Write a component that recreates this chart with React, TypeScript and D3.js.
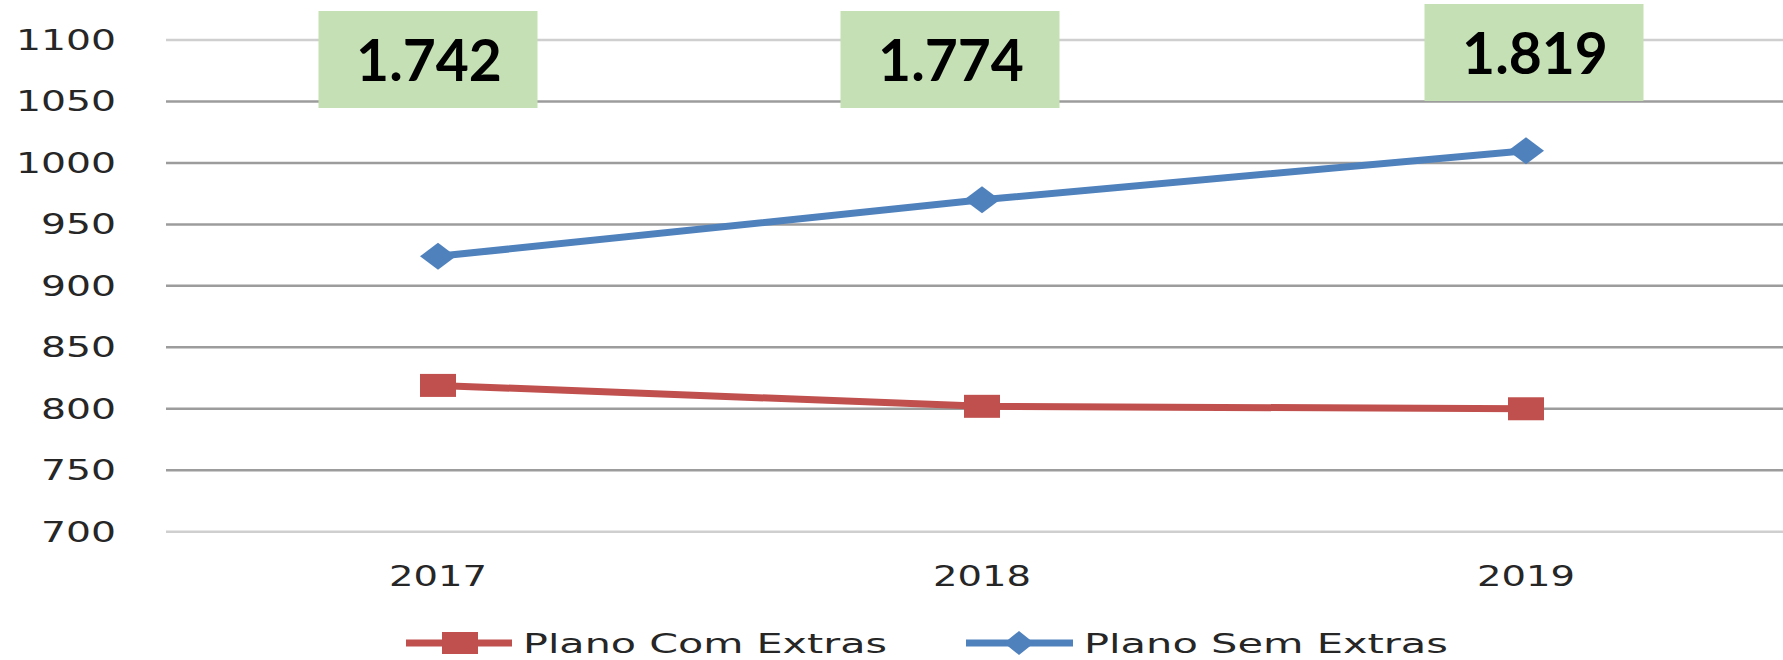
import React, { useEffect, useRef } from "react";
import * as d3 from "d3";

const years = ["2017", "2018", "2019"];
const comExtras = [819, 802, 800];
const semExtras = [924, 970, 1010];
const totalLabels = ["1.742", "1.774", "1.819"];
const yTicks = [700, 750, 800, 850, 900, 950, 1000, 1050, 1100];
const seriesNames = ["Plano Com Extras", "Plano Sem Extras"];

const RED = "#c0504d";
const BLUE = "#4f81bd";

export default function App() {
  const ref = useRef<SVGSVGElement>(null);
  const width = 1783;
  const height = 660;

  useEffect(() => {
    const svg = d3.select(ref.current).attr("width", width).attr("height", height);
    svg.selectAll("*").remove();

    const x = d3.scalePoint<string>().domain(years).range([166, 1798]).padding(0.5);
    const y = d3.scaleLinear().domain([700, 1100]).range([531.7, 40]);

    const font = "'DejaVu Sans', Verdana, sans-serif";

    // grid
    svg
      .append("g")
      .selectAll("line")
      .data(yTicks)
      .join("line")
      .attr("x1", 166)
      .attr("x2", width)
      .attr("y1", (d) => y(d))
      .attr("y2", (d) => y(d))
      .attr("stroke", (d) => (d === 700 || d === 1100 ? "#cfcfcf" : "#9c9c9c"))
      .attr("stroke-width", 2.5);

    // y labels (stretched like the original)
    svg
      .append("g")
      .selectAll("text")
      .data(yTicks)
      .join("text")
      .attr("x", 116)
      .attr("y", (d) => y(d) + 10)
      .attr("text-anchor", "end")
      .attr("font-family", font)
      .attr("font-size", 28)
      .attr("fill", "#262626")
      .attr("textLength", (d) => String(d).length * 25)
      .attr("lengthAdjust", "spacingAndGlyphs")
      .text((d) => d);

    // x labels
    svg
      .append("g")
      .selectAll("text")
      .data(years)
      .join("text")
      .attr("x", (d) => x(d)!)
      .attr("y", 586)
      .attr("text-anchor", "middle")
      .attr("font-family", font)
      .attr("font-size", 28)
      .attr("fill", "#262626")
      .attr("textLength", 98)
      .attr("lengthAdjust", "spacingAndGlyphs")
      .text((d) => d);

    const line = d3
      .line<number>()
      .x((_, i) => x(years[i])!)
      .y((d) => y(d));

    // red series
    svg
      .append("path")
      .datum(comExtras)
      .attr("d", line)
      .attr("fill", "none")
      .attr("stroke", RED)
      .attr("stroke-width", 7);
    svg
      .append("g")
      .selectAll("rect")
      .data(comExtras)
      .join("rect")
      .attr("x", (_, i) => x(years[i])! - 18)
      .attr("y", (d) => y(d) - 11.5)
      .attr("width", 36)
      .attr("height", 23)
      .attr("fill", RED);

    // blue series
    const diamond = (cx: number, cy: number, w: number, h: number) =>
      `M${cx - w / 2},${cy}L${cx},${cy - h / 2}L${cx + w / 2},${cy}L${cx},${cy + h / 2}Z`;
    svg
      .append("path")
      .datum(semExtras)
      .attr("d", line)
      .attr("fill", "none")
      .attr("stroke", BLUE)
      .attr("stroke-width", 7);
    svg
      .append("g")
      .selectAll("path")
      .data(semExtras)
      .join("path")
      .attr("d", (d, i) => diamond(x(years[i])!, y(d), 36, 27))
      .attr("fill", BLUE);

    // total boxes
    const nudgeX = [-10, -32, 8];
    const boxTop = [11, 11, 4];
    const boxes = svg
      .append("g")
      .selectAll("g")
      .data(totalLabels)
      .join("g")
      .attr("transform", (_, i) => `translate(${x(years[i])! + nudgeX[i]},${boxTop[i]})`);
    boxes
      .append("rect")
      .attr("x", -109.5)
      .attr("y", 0)
      .attr("width", 219)
      .attr("height", 97)
      .attr("fill", "#c5e0b4");
    boxes
      .append("text")
      .attr("x", 1)
      .attr("y", 70)
      .attr("text-anchor", "middle")
      .attr("font-family", "Lato, 'Open Sans', sans-serif")
      .attr("font-weight", 700)
      .attr("font-size", 57)
      .attr("fill", "#000")
      .text((d) => d);

    // legend
    const legend = svg.append("g");
    const ly = 643;
    legend
      .append("line")
      .attr("x1", 406)
      .attr("x2", 512)
      .attr("y1", ly)
      .attr("y2", ly)
      .attr("stroke", RED)
      .attr("stroke-width", 7);
    legend
      .append("rect")
      .attr("x", 442)
      .attr("y", ly - 11)
      .attr("width", 36)
      .attr("height", 22)
      .attr("fill", RED);
    legend
      .append("line")
      .attr("x1", 966)
      .attr("x2", 1073)
      .attr("y1", ly)
      .attr("y2", ly)
      .attr("stroke", BLUE)
      .attr("stroke-width", 7);
    legend.append("path").attr("d", diamond(1019, ly, 30, 24)).attr("fill", BLUE);
    legend
      .selectAll("text")
      .data(seriesNames)
      .join("text")
      .attr("x", (_, i) => (i === 0 ? 523 : 1084))
      .attr("y", 653)
      .attr("font-family", font)
      .attr("font-size", 26)
      .attr("fill", "#262626")
      .attr("textLength", 364)
      .attr("lengthAdjust", "spacingAndGlyphs")
      .text((d) => d);
  }, []);

  return (
    <div style={{ position: "absolute", top: 0, left: 0, width, height, overflow: "hidden", background: "#fff" }}>
      <svg ref={ref} style={{ display: "block" }} />
    </div>
  );
}
